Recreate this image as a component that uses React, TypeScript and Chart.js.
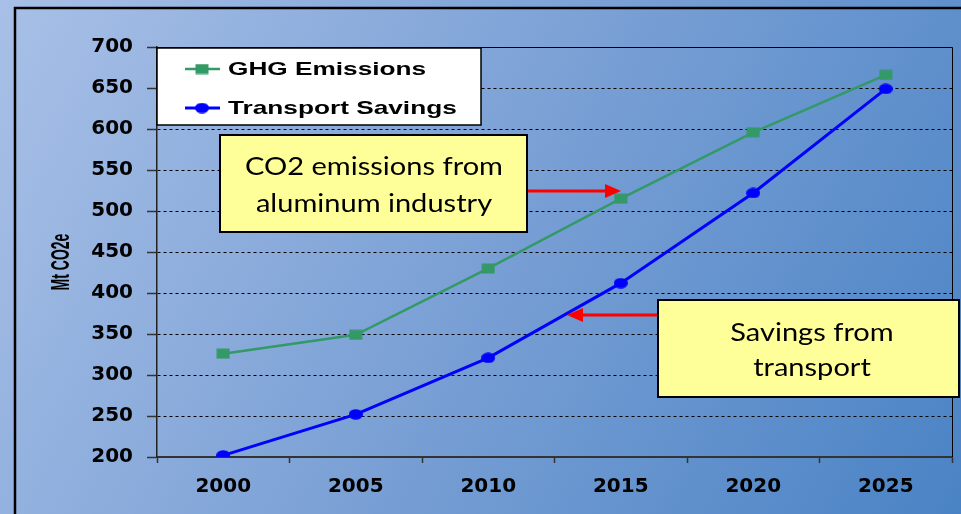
import React, { useEffect, useRef } from "react";
import { Chart, registerables } from "chart.js";

Chart.register(...registerables);

const years = ["2000", "2005", "2010", "2015", "2020", "2025"];
const ghgEmissions = [326, 349, 430, 515, 596, 666];
const transportSavings = [202, 252, 321, 412, 522, 649];
const seriesLabels = ["GHG Emissions", "Transport Savings"];
const yTicks = { min: 200, max: 700, step: 50 };
const yTitle = "Mt CO2e";
const noteAluminum = ["CO2 emissions from", "aluminum industry"];
const noteTransport = ["Savings from", "transport"];

const GREEN = "#339966";
const BLUE = "#0000ff";

function makeMarker(kind: "rect" | "ellipse", color: string) {
  const c = document.createElement("canvas");
  c.width = 14;
  c.height = 11;
  const x = c.getContext("2d")!;
  x.fillStyle = color;
  if (kind === "rect") {
    x.fillRect(0.5, 0.5, 13, 10);
  } else {
    x.beginPath();
    x.ellipse(7, 5.5, 7, 5.2, 0, 0, Math.PI * 2);
    x.fill();
  }
  return c;
}

export default function App() {
  const ref = useRef<HTMLCanvasElement | null>(null);

  useEffect(() => {
    const canvas = ref.current!;
    const sq = makeMarker("rect", GREEN);
    const el = makeMarker("ellipse", BLUE);

    const bgPlugin = {
      id: "bg",
      beforeDraw(chart: any) {
        const ctx = chart.ctx as CanvasRenderingContext2D;
        const w = chart.width, h = chart.height;
        ctx.save();
        const g = ctx.createLinearGradient(0, 0, w, h);
        g.addColorStop(0, "#a8c0e7");
        g.addColorStop(0.5, "#7aa0d5");
        g.addColorStop(1, "#4a83c5");
        ctx.fillStyle = g;
        ctx.fillRect(0, 0, w, h);
        ctx.strokeStyle = "#000";
        ctx.lineWidth = 2.5;
        ctx.strokeRect(15, 8, w + 50, h + 50);
        ctx.restore();
      },
    };

    const overlayPlugin = {
      id: "overlay",
      afterDraw(chart: any) {
        const ctx = chart.ctx as CanvasRenderingContext2D;
        const a = chart.chartArea;
        ctx.save();
        // plot area top and right borders
        ctx.strokeStyle = "#000";
        ctx.lineWidth = 1;
        ctx.beginPath();
        ctx.moveTo(a.left, a.top + 0.5);
        ctx.lineTo(a.right + 0.5, a.top + 0.5);
        ctx.lineTo(a.right + 0.5, a.bottom);
        ctx.stroke();

        // y title
        ctx.save();
        ctx.translate(62, 262);
        ctx.rotate(-Math.PI / 2);
        ctx.scale(1, 1.9);
        ctx.font = 'bold 14px "Liberation Sans", Arial, sans-serif';
        ctx.fillStyle = "#000";
        ctx.textAlign = "center";
        ctx.textBaseline = "middle";
        ctx.fillText(yTitle, 0, 0);
        ctx.restore();

        // legend
        ctx.fillStyle = "#fff";
        ctx.fillRect(157, 48, 324, 77);
        ctx.strokeStyle = "#000";
        ctx.lineWidth = 1.5;
        ctx.strokeRect(157, 48, 324, 77);
        const rows = [
          { y: 69, color: GREEN, img: sq, lw: 2.5, label: seriesLabels[0] },
          { y: 108, color: BLUE, img: el, lw: 3, label: seriesLabels[1] },
        ];
        rows.forEach((r) => {
          ctx.strokeStyle = r.color;
          ctx.lineWidth = r.lw;
          ctx.beginPath();
          ctx.moveTo(185, r.y);
          ctx.lineTo(220, r.y);
          ctx.stroke();
          ctx.drawImage(r.img, 202 - r.img.width / 2, r.y - r.img.height / 2);
          ctx.save();
          ctx.translate(228, r.y + 1);
          ctx.scale(1.38, 1);
          ctx.font = 'bold 19px "Liberation Sans", Arial, sans-serif';
          ctx.fillStyle = "#000";
          ctx.textAlign = "left";
          ctx.textBaseline = "middle";
          ctx.fillText(r.label, 0, 0);
          ctx.restore();
        });

        // arrows
        const arrow = (x0: number, x1: number, y: number) => {
          const dir = Math.sign(x1 - x0);
          const base = x1 - dir * 16;
          ctx.strokeStyle = "#ff0000";
          ctx.fillStyle = "#ff0000";
          ctx.lineWidth = 3;
          ctx.beginPath();
          ctx.moveTo(x0, y);
          ctx.lineTo(base, y);
          ctx.stroke();
          ctx.beginPath();
          ctx.moveTo(x1, y);
          ctx.lineTo(base, y - 7);
          ctx.lineTo(base, y + 7);
          ctx.closePath();
          ctx.fill();
        };
        arrow(528, 621, 191);
        arrow(658, 567, 315);

        // note boxes
        ctx.font = '25px Lato, "Open Sans", sans-serif';
        const sx = 258 / ctx.measureText(noteAluminum[0]).width;
        const box = (x: number, y: number, w: number, h: number, lines: string[], cx: number, ys: number[]) => {
          ctx.fillStyle = "#ffff99";
          ctx.fillRect(x, y, w, h);
          ctx.strokeStyle = "#000";
          ctx.lineWidth = 2;
          ctx.strokeRect(x, y, w, h);
          lines.forEach((t, i) => {
            ctx.save();
            ctx.translate(cx, ys[i]);
            ctx.scale(sx, 1);
            ctx.font = '25px Lato, "Open Sans", sans-serif';
            ctx.fillStyle = "#000";
            ctx.textAlign = "center";
            ctx.textBaseline = "middle";
            ctx.fillText(t, 0, 0);
            ctx.restore();
          });
        };
        box(220, 135, 307, 97, noteAluminum, 374, [167, 204]);
        box(658, 300, 301, 97, noteTransport, 812, [333, 368]);
        ctx.restore();
      },
    };

    const chart = new Chart(canvas, {
      type: "line",
      data: {
        labels: years,
        datasets: [
          {
            label: seriesLabels[0],
            data: ghgEmissions,
            borderColor: GREEN,
            backgroundColor: GREEN,
            borderWidth: 2.5,
            pointStyle: sq as any,
            pointRadius: 6,
            tension: 0,
          },
          {
            label: seriesLabels[1],
            data: transportSavings,
            borderColor: BLUE,
            backgroundColor: BLUE,
            borderWidth: 3,
            pointStyle: el as any,
            pointRadius: 6,
            tension: 0,
          },
        ],
      },
      options: {
        responsive: false,
        animation: false,
        devicePixelRatio: 1,
        layout: { padding: { top: 47, right: 7, bottom: 0, left: 0 } },
        plugins: { legend: { display: false }, tooltip: { enabled: false } },
        scales: {
          x: {
            type: "category",
            offset: true,
            afterFit: (s: any) => {
              s.height = 57;
            },
            grid: {
              offset: true,
              drawOnChartArea: false,
              drawTicks: true,
              tickLength: 6,
              tickColor: "#333",
              tickWidth: 1.5,
            },
            border: { display: true, color: "#333", width: 2 },
            ticks: {
              color: "#000",
              padding: 12,
              maxRotation: 0,
              font: { family: '"DejaVu Sans", sans-serif', weight: "bold", size: 20 },
            },
          },
          y: {
            min: yTicks.min,
            max: yTicks.max,
            afterFit: (s: any) => {
              s.width = 157;
            },
            grid: {
              color: "#000",
              lineWidth: 1,
              drawTicks: true,
              tickLength: 10,
              tickColor: "#333",
              tickWidth: 1.5,
              tickBorderDash: [],
            },
            border: { display: true, color: "#222", width: 1.5, dash: [3, 3] },
            ticks: {
              stepSize: yTicks.step,
              color: "#000",
              padding: 14,
              font: { family: '"DejaVu Sans", sans-serif', weight: "bold", size: 20 },
            },
          },
        },
      },
      plugins: [bgPlugin, overlayPlugin],
    } as any);

    return () => chart.destroy();
  }, []);

  return (
    <div style={{ position: "fixed", left: 0, top: 0, width: 961, height: 514 }}>
      <canvas ref={ref} width={961} height={514} style={{ display: "block" }} />
    </div>
  );
}
